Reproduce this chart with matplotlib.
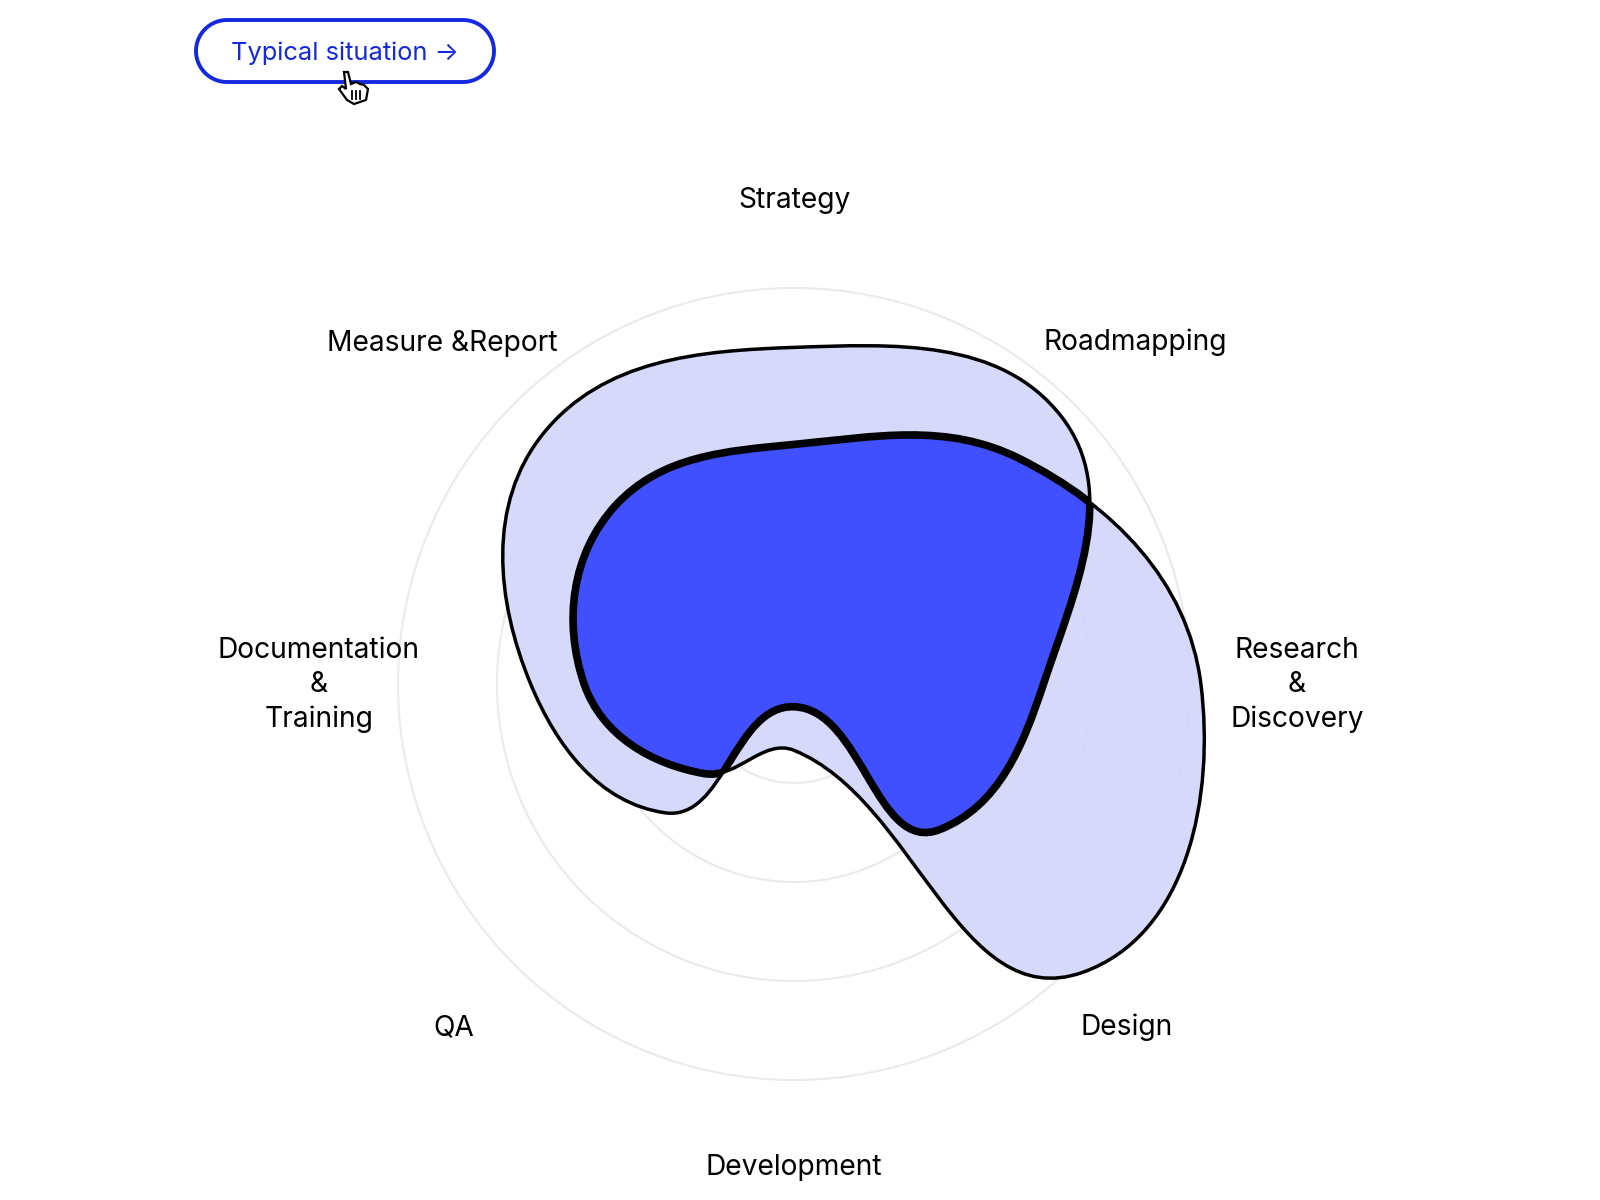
import numpy as np
import matplotlib
matplotlib.use('Agg')
import matplotlib.pyplot as plt
from matplotlib.path import Path
from matplotlib.patches import PathPatch, Circle

plt.rcParams['font.family'] = ['Inter', 'DejaVu Sans']

# data, outer ring = 4
categories = ['Strategy', 'Roadmapping', 'Research\n&\nDiscovery', 'Design',
              'Development', 'QA', 'Documentation\n&\nTraining', 'Measure &Report']
typical = [3.40, 3.82, 2.52, 2.08, 0.23, 1.84, 2.66, 3.58]
other = [2.42, 3.22, 4.11, 4.12, 0.67, 1.28, 2.12, 2.55]
rings = [1, 2, 3, 4]
label_xy = [(0, 4.88), (3.45, 3.45), (5.08, -0.01), (3.36, -3.47),
            (0, -4.88), (-3.44, -3.47), (-4.8, -0.01), (-3.55, 3.44)]

BLUE = '#4050FF'
PALE = '#D3D7FA'
BTN = '#1428E0'
cx, cy, unit = 794, 684, 99


def blob(values, k=0.36):
    # closed curve through the points, tangent follows the change of radius
    r = np.array(values)
    n = len(r)
    step = 2 * np.pi / n
    theta = np.pi / 2 - np.arange(n) * step
    radial = np.column_stack([np.cos(theta), np.sin(theta)])
    along = np.column_stack([np.sin(theta), -np.cos(theta)])
    p = radial * r[:, None]
    d1 = r - np.roll(r, 1)
    d2 = np.roll(r, -1) - r
    mono = np.where(d1 * d2 > 0, 2 * d1 * d2 / np.where(d1 + d2 == 0, 1, d1 + d2), 0) / step
    central = 0.9 * (d1 + d2) / (2 * step) * np.minimum(1, r / 4)
    slope = np.where(np.abs(mono) > np.abs(central), mono, central)
    tan = radial * slope[:, None] + along * r[:, None]
    tan = tan / np.linalg.norm(tan, axis=1)[:, None]
    verts = [p[0]]
    codes = [Path.MOVETO]
    for i in range(n):
        j = (i + 1) % n
        h = np.linalg.norm(p[j] - p[i]) * k
        verts += [p[i] + tan[i] * h, p[j] - tan[j] * h, p[j]]
        codes += [Path.CURVE4] * 3
    return Path(np.array(verts), codes)


fig = plt.figure(figsize=(16, 12), dpi=100)
ax = fig.add_axes([0, 0, 1, 1])
ax.set_xlim(-cx / unit, (1600 - cx) / unit)
ax.set_ylim(-(1200 - cy) / unit, cy / unit)
ax.axis('off')

for r in rings:
    ax.add_patch(Circle((0, 0), r, fill=False, ec='#EAEAEA', lw=1.5, zorder=1))

a = blob(typical)
b = blob(other)

ax.add_patch(PathPatch(a, fc=PALE, ec='none', alpha=0.93, zorder=2))
ax.add_patch(PathPatch(b, fc=PALE, ec='none', alpha=0.93, zorder=2))

# the overlap is solid, with a heavier outline
solid = PathPatch(a, fc=BLUE, ec='none', zorder=3)
ax.add_patch(solid)
solid.set_clip_path(b, ax.transData)

ax.add_patch(PathPatch(a, fc='none', ec='black', lw=2.5, zorder=4))
ax.add_patch(PathPatch(b, fc='none', ec='black', lw=2.5, zorder=4))
thick_a = PathPatch(a, fc='none', ec='black', lw=5.5, zorder=5)
thick_b = PathPatch(b, fc='none', ec='black', lw=5.5, zorder=5)
ax.add_patch(thick_a)
ax.add_patch(thick_b)
thick_a.set_clip_path(b, ax.transData)
thick_b.set_clip_path(a, ax.transData)

for name, (x, y) in zip(categories, label_xy):
    ax.text(x, y, name, ha='center', va='center', fontsize=20.3, color='black',
            linespacing=1.32, zorder=6)

# button and cursor, in pixels
ui = fig.add_axes([0, 0, 1, 1])
ui.set_xlim(0, 1600)
ui.set_ylim(1200, 0)
ui.axis('off')
ui.patch.set_alpha(0)

t = np.linspace(-np.pi / 2, np.pi / 2, 40)
pill_x = np.r_[463 + 31 * np.cos(t), 227 - 31 * np.cos(t[::-1])]
pill_y = np.r_[51 + 31 * np.sin(t), 51 + 31 * np.sin(t[::-1])]
ui.fill(pill_x, pill_y, fc='white', ec=BTN, lw=2.8)
ui.text(345, 53.5, 'Typical situation \u2192', ha='center', va='center', fontsize=18.3, color=BTN)

hand = [(344, 72), (348, 72), (351, 84), (356, 82), (360, 84), (364, 85), (368, 89),
        (366, 100), (354, 104), (347, 100), (339, 89), (342, 86), (346, 89)]
ui.fill(*zip(*hand), fc='white', ec='black', lw=1.6, zorder=5)
for x in (352, 356, 360):
    ui.plot([x, x], [91, 99], color='black', lw=1.3, zorder=6)

fig.savefig('out.png', dpi=100, facecolor='white')
